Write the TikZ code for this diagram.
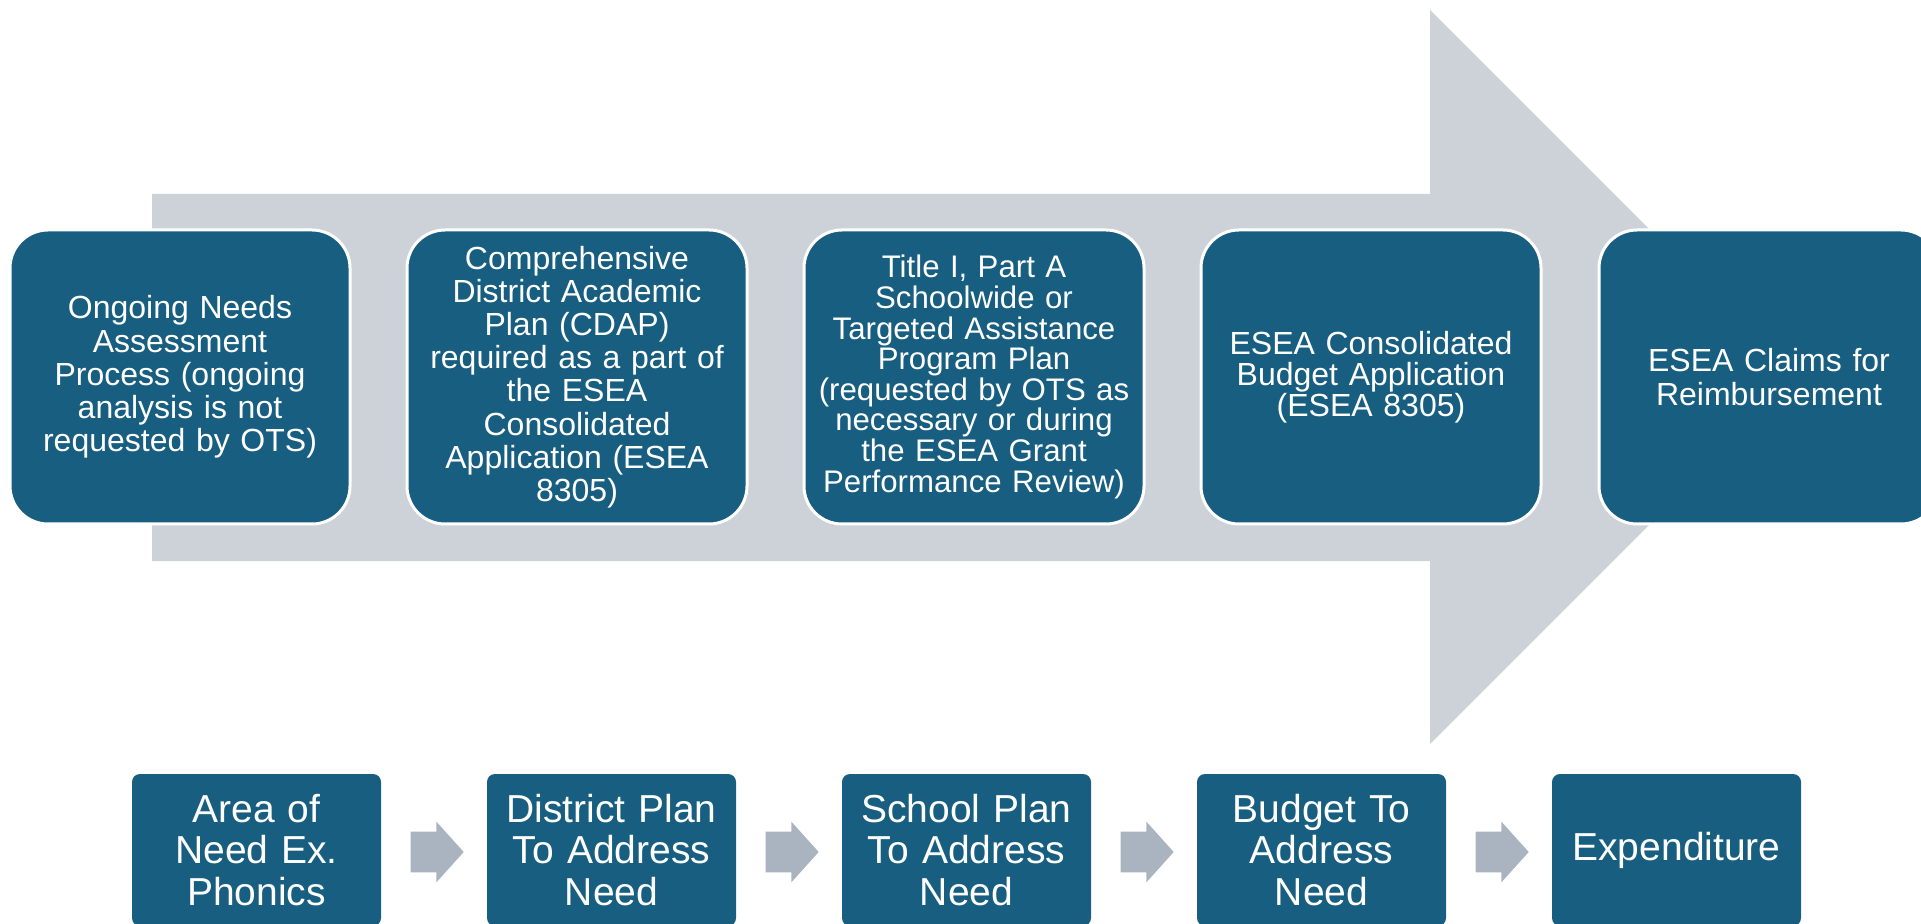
\documentclass[tikz,border=0pt]{standalone}
\usepackage{fontspec}
\setmainfont{Liberation Sans}
\usetikzlibrary{positioning,shapes.arrows,calc}
\definecolor{boxblue}{HTML}{175E80}
\definecolor{bandgray}{HTML}{CDD2D9}
\definecolor{stepgray}{HTML}{A9B4C0}
\begin{document}
\begin{tikzpicture}[x=0.5pt,y=-0.5pt,
   topbox/.style={fill=boxblue,draw=white,line width=1.5pt,rounded corners=19pt,minimum width=170pt,minimum height=147pt,text width=166pt,align=center,text=white,inner sep=0pt,font=\fontsize{16}{16.6}\selectfont},
   lowbox/.style={fill=boxblue,rounded corners=4pt,minimum width=124.5pt,minimum height=76pt,text width=122pt,align=center,text=white,inner sep=0pt,font=\fontsize{19.5}{20.8}\selectfont},
   steparrow/.style={single arrow,fill=stepgray,single arrow head extend=5pt,single arrow tip angle=96,minimum height=26.5pt,inner xsep=0pt,inner ysep=10pt}]
   \useasboundingbox (0,0) rectangle (1921,924);
   \fill[bandgray] (152,194) -- (1430,194) -- (1430,10) -- (1797,377) -- (1430,744) -- (1430,561) -- (152,561) -- cycle;
   \node[topbox] (need) at (180,377) {Ongoing Needs\\Assessment\\Process (ongoing\\analysis is not\\requested by OTS)};
   \node[topbox,right=27pt of need] (cdap) {Comprehensive\\District Academic\\Plan (CDAP)\\required as a part of\\the ESEA\\Consolidated\\Application (ESEA\\8305)};
   \node[topbox,right=27pt of cdap,font=\fontsize{15.6}{15.3}\selectfont] (title) {Title I, Part A\\Schoolwide or\\Targeted Assistance\\Program Plan\\(requested by OTS as\\necessary or during\\the ESEA Grant\\Performance Review)};
   \node[topbox,right=27pt of title,font=\fontsize{16}{15.6}\selectfont] (budget) {ESEA Consolidated\\Budget Application\\(ESEA 8305)};
   \node[topbox,right=27.5pt of budget] (claims) {ESEA Claims for\\Reimbursement};
   \node[lowbox] (area) at (256.5,850) {Area of\\Need Ex.\\Phonics};
   \node[lowbox,right=52.6pt of area] (dplan) {District Plan\\To Address\\Need};
   \node[lowbox,right=52.6pt of dplan] (splan) {School Plan\\To Address\\Need};
   \node[lowbox,right=52.6pt of splan] (bplan) {Budget To\\Address\\Need};
   \node[lowbox,right=52.6pt of bplan] (spend) {Expenditure};
   \foreach \a/\b in {area/dplan,dplan/splan,splan/bplan,bplan/spend}
      \node[steparrow] (\a-\b) at ($(\a.east)!0.5!(\b.west)+(-6,2)$) {};
\end{tikzpicture}
\end{document}
